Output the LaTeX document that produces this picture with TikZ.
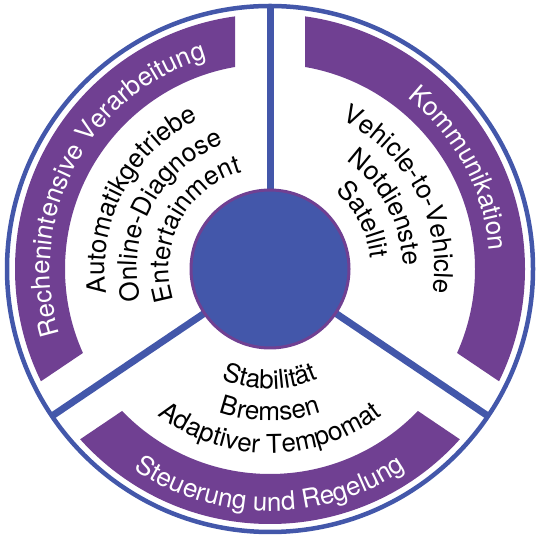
\documentclass[tikz,border=0pt]{standalone}
\usepackage{fontspec}
\setmainfont{TeX Gyre Heros}
\usetikzlibrary{calc,decorations.text}
\definecolor{ringblue}{HTML}{4357AA}
\definecolor{bandpurple}{HTML}{704092}
\newcommand\labelfont{\fontsize{26}{30}\selectfont}
\begin{document}
\begin{tikzpicture}[x=1pt,y=1pt,
  divider/.style={draw=ringblue, line width=7pt},
  ring/.style={draw=ringblue, line width=4.5pt},
  hub/.style={fill=ringblue, draw=bandpurple, line width=3pt},
  bandfill/.style={fill=bandpurple, even odd rule},
  bandtext/.style={decorate, decoration={text along path, text align=center, text={|\labelfont\color{white}|#1}}},
  innertext/.style={decorate, decoration={text along path, text align=center, text={|\labelfont\color{black}|#1}}}
]
\useasboundingbox (0,0) rectangle (540,540);
\coordinate (O) at (270,271);

% purple bands, each clipped to its sector (ends parallel to dividers)
\begin{scope}
  \coordinate (VL) at ($(O)+(152:39.64)$);
  \clip (VL) -- ($(VL)+(90:500)$) -- ($(VL)+(152:800)$) -- ($(VL)+(214:500)$) -- cycle;
  \fill[bandfill] (O) circle[radius=255] (O) circle[radius=205];
\end{scope}
\begin{scope}
  \coordinate (VR) at ($(O)+(28:39.64)$);
  \clip (VR) -- ($(VR)+(90:500)$) -- ($(VR)+(28:800)$) -- ($(VR)+(-34:500)$) -- cycle;
  \fill[bandfill] (O) circle[radius=255] (O) circle[radius=205];
\end{scope}
\begin{scope}
  \coordinate (VB) at ($(O)+(270:42.22)$);
  \clip (VB) -- ($(VB)+(214:500)$) -- ($(VB)+(270:800)$) -- ($(VB)+(326:500)$) -- cycle;
  \fill[bandfill] (O) circle[radius=255] (O) circle[radius=205];
\end{scope}

% dividers
\coordinate (D1) at ($(O)+(90:263)$);
\coordinate (D2) at ($(O)+(214:263)$);
\coordinate (D3) at ($(O)+(326:263)$);
\draw[divider] (O) -- (D1);
\draw[divider] (O) -- (D2);
\draw[divider] (O) -- (D3);

% outer ring and hub
\draw[ring] (O) circle[radius=263];
\filldraw[hub] (O) circle[radius=79];

% band labels
\path[bandtext=Rechenintensive Verarbeitung] ($(O)+(212:220)$) arc[start angle=212, end angle=92, radius=220];
\path[bandtext=Kommunikation] ($(O)+(88:220)$) arc[start angle=88, end angle=-32, radius=220];
\path[bandtext=Steuerung und Regelung] ($(O)+(210:242)$) arc[start angle=210, end angle=330, radius=242];

% inner texts: left sector
\path[innertext=Automatikgetriebe] ($(O)+(212:165)$) arc[start angle=212, end angle=92, radius=165];
\path[innertext=Online-Diagnose] ($(O)+(212:133)$) arc[start angle=212, end angle=92, radius=133];
\path[innertext=Entertainment] ($(O)+(212:101)$) arc[start angle=212, end angle=92, radius=101];

% right sector
\path[innertext=Vehicle-to-Vehicle] ($(O)+(88:165)$) arc[start angle=88, end angle=-32, radius=165];
\path[innertext=Notdienste] ($(O)+(88:133)$) arc[start angle=88, end angle=-32, radius=133];
\path[innertext=Satellit] ($(O)+(88:101)$) arc[start angle=88, end angle=-32, radius=101];

% bottom sector
\path[innertext=Stabilität] ($(O)+(210:120)$) arc[start angle=210, end angle=330, radius=120];
\path[innertext=Bremsen] ($(O)+(210:152)$) arc[start angle=210, end angle=330, radius=152];
\path[innertext=Adaptiver Tempomat] ($(O)+(210:184)$) arc[start angle=210, end angle=330, radius=184];
\end{tikzpicture}
\end{document}
